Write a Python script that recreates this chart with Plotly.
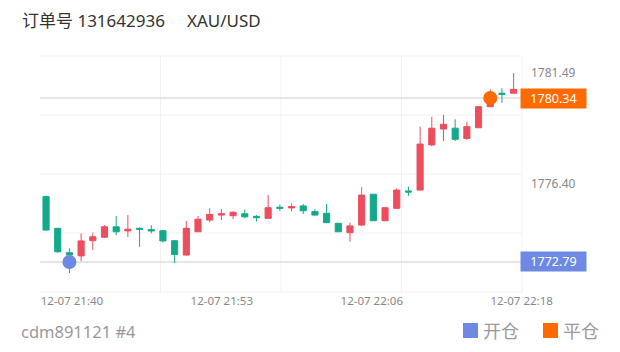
import plotly.graph_objects as go
import pandas as pd

# ---------------- data ----------------
START_TIME = "2021-12-07 21:38:00"
N = 41
OPEN = [1775.80, 1774.34, 1773.22, 1773.07, 1773.77, 1773.93, 1774.41, 1774.22, 1774.34, 1774.28,
        1774.23, 1773.77, 1773.11, 1774.18, 1774.72, 1774.95, 1774.92, 1775.01, 1774.89, 1774.80,
        1775.31, 1775.28, 1775.37, 1775.11, 1775.03, 1774.57, 1774.14, 1774.49, 1775.91, 1774.69,
        1775.26, 1776.06, 1776.10, 1778.18, 1778.91, 1778.95, 1778.48, 1778.97, 1779.94, 1780.56,
        1780.56]
HIGH = [1775.85, 1774.36, 1773.42, 1774.11, 1774.14, 1774.49, 1774.91, 1774.95, 1774.38, 1774.49,
        1774.26, 1773.80, 1774.68, 1774.91, 1775.26, 1775.23, 1775.12, 1775.20, 1774.95, 1775.87,
        1775.43, 1775.49, 1775.46, 1775.22, 1775.46, 1774.59, 1774.60, 1776.23, 1775.92, 1775.32,
        1776.18, 1776.26, 1779.02, 1779.48, 1779.56, 1779.36, 1779.25, 1779.97, 1780.74, 1780.79,
        1781.49]
LOW = [1774.22, 1773.22, 1772.28, 1772.84, 1773.34, 1773.89, 1774.03, 1773.94, 1773.49, 1774.11,
       1773.68, 1772.74, 1773.08, 1774.17, 1774.62, 1774.72, 1774.77, 1774.80, 1774.65, 1774.77,
       1775.15, 1775.12, 1775.00, 1774.93, 1774.59, 1774.17, 1773.72, 1774.45, 1774.68, 1774.68,
       1775.25, 1775.83, 1776.08, 1778.13, 1778.36, 1778.36, 1778.41, 1778.96, 1779.93, 1780.12,
       1780.55]
CLOSE = [1774.26, 1773.26, 1773.11, 1773.76, 1773.95, 1774.41, 1774.18, 1774.30, 1774.30, 1774.22,
         1773.76, 1773.14, 1774.34, 1774.76, 1774.98, 1775.01, 1775.08, 1774.87, 1774.83, 1775.29,
         1775.26, 1775.34, 1775.15, 1774.95, 1774.60, 1774.18, 1774.45, 1775.87, 1774.69, 1775.29,
         1776.10, 1776.01, 1778.22, 1778.95, 1779.13, 1778.44, 1779.02, 1779.94, 1780.57, 1780.51,
         1780.74]

OPEN_IDX, OPEN_PRICE = 2, 1772.79
CLOSE_IDX, CLOSE_PRICE = 38, 1780.34

Y_TICKS = [1781.49, 1776.40]
X_TICK_TIMES = ["2021-12-07 21:40:13", "2021-12-07 21:53:02",
                "2021-12-07 22:05:52", "2021-12-07 22:18:41"]
X_TICK_TEXT = ["12-07 21:40", "12-07 21:53", "12-07 22:06", "12-07 22:18"]

TITLE_ORDER = "订单号 131642936"
TITLE_SYMBOL = "XAU/USD"
ACCOUNT = "cdm891121 #4"
LEGEND_OPEN = "开仓"
LEGEND_CLOSE = "平仓"

# ---------------- styles ----------------
RED = "#ec4e5e"
GREEN = "#14a98b"
BLUE = "#6d89e1"
ORANGE = "#ff6a00"
GRID = "#f1f1f1"
PRICE_LINE = "#dcdcdc"
FONT = "Noto Sans, Noto Sans CJK SC, sans-serif"

times = pd.date_range(START_TIME, periods=N, freq="1min")
t0 = pd.Timestamp(START_TIME)
x_range = [t0 - pd.Timedelta(seconds=31), t0 + pd.Timedelta(seconds=int(40.72 * 60))]

L, R, T, B, W, H = 40, 98, 56, 60, 620, 352
PW, PH = W - L - R, H - T - B


def px2x(px):
    return (px - L) / PW


def py2y(py):
    return (H - B - py) / PH


fig = go.Figure()
fig.add_trace(go.Candlestick(
    x=times, open=OPEN, high=HIGH, low=LOW, close=CLOSE,
    increasing=dict(line=dict(color=RED, width=1), fillcolor=RED),
    decreasing=dict(line=dict(color=GREEN, width=1), fillcolor=GREEN),
    whiskerwidth=0, showlegend=False, hoverinfo="skip",
))
fig.add_trace(go.Scatter(
    x=[times[OPEN_IDX]], y=[OPEN_PRICE], mode="markers",
    marker=dict(size=14, color=BLUE), showlegend=False, hoverinfo="skip"))
fig.add_trace(go.Scatter(
    x=[times[CLOSE_IDX]], y=[CLOSE_PRICE], mode="markers",
    marker=dict(size=14, color=ORANGE), showlegend=False, hoverinfo="skip"))

shapes = []
for f in [0, 0.25, 0.5, 0.75, 1.0]:
    shapes.append(dict(type="line", xref="paper", yref="paper", x0=0, x1=1, y0=f, y1=f,
                       line=dict(color=GRID, width=1), layer="below"))
for f in [0.25, 0.5, 0.75, 1.0]:
    shapes.append(dict(type="line", xref="paper", yref="paper", x0=f, x1=f, y0=0, y1=1,
                       line=dict(color=GRID, width=1), layer="below"))
for p in [OPEN_PRICE, CLOSE_PRICE]:
    shapes.append(dict(type="line", xref="paper", yref="y", x0=0, x1=1, y0=p, y1=p,
                       line=dict(color=PRICE_LINE, width=1.5), layer="below"))
# legend squares
shapes.append(dict(type="rect", xref="paper", yref="paper",
                   x0=px2x(463), x1=px2x(478), y0=py2y(338), y1=py2y(323),
                   fillcolor=BLUE, line=dict(width=0)))
shapes.append(dict(type="rect", xref="paper", yref="paper",
                   x0=px2x(543), x1=px2x(558), y0=py2y(338), y1=py2y(323),
                   fillcolor=ORANGE, line=dict(width=0)))

annotations = [
    dict(text=TITLE_ORDER, xref="paper", yref="paper", x=px2x(20), y=py2y(21),
         xanchor="left", yanchor="middle", showarrow=False, font=dict(size=17, color="#333333")),
    dict(text=TITLE_SYMBOL, xref="paper", yref="paper", x=px2x(185), y=py2y(21),
         xanchor="left", yanchor="middle", showarrow=False, font=dict(size=17, color="#333333")),
    dict(text=ACCOUNT, xref="paper", yref="paper", x=px2x(19), y=py2y(331),
         xanchor="left", yanchor="middle", showarrow=False, font=dict(size=16.5, color="#999999")),
    dict(text=LEGEND_OPEN, xref="paper", yref="paper", x=px2x(481), y=py2y(331),
         xanchor="left", yanchor="middle", showarrow=False, font=dict(size=18, color="#999999")),
    dict(text=LEGEND_CLOSE, xref="paper", yref="paper", x=px2x(561), y=py2y(331),
         xanchor="left", yanchor="middle", showarrow=False, font=dict(size=18, color="#999999")),
    dict(text=f"{OPEN_PRICE:.2f}", xref="paper", yref="y", x=px2x(520), y=OPEN_PRICE,
         xanchor="left", yanchor="middle", showarrow=False, bgcolor=BLUE,
         width=61, height=15, borderpad=2, font=dict(size=12.5, color="white")),
    dict(text=f"{CLOSE_PRICE:.2f}", xref="paper", yref="y", x=px2x(520), y=CLOSE_PRICE,
         xanchor="left", yanchor="middle", showarrow=False, bgcolor=ORANGE,
         width=61, height=15, borderpad=2, font=dict(size=12.5, color="white")),
]

fig.update_layout(
    width=W, height=H, margin=dict(l=L, r=R, t=T, b=B),
    paper_bgcolor="white", plot_bgcolor="white",
    font=dict(family=FONT, color="#888888"),
    showlegend=False, boxgap=0.25,
    shapes=shapes, annotations=annotations,
    xaxis=dict(type="date", range=x_range, rangeslider=dict(visible=False),
               showgrid=False, zeroline=False, showline=False, ticks="",
               tickvals=X_TICK_TIMES, ticktext=X_TICK_TEXT,
               tickfont=dict(size=11.5, color="#888888")),
    yaxis=dict(range=[1771.408, 1782.274], side="right", showgrid=False, zeroline=False,
               showline=False, ticks="", tickvals=Y_TICKS,
               ticktext=[f"{v:.2f}" for v in Y_TICKS], ticklabelstandoff=8,
               tickfont=dict(size=12, color="#888888")),
)

fig.write_html("out.html")
